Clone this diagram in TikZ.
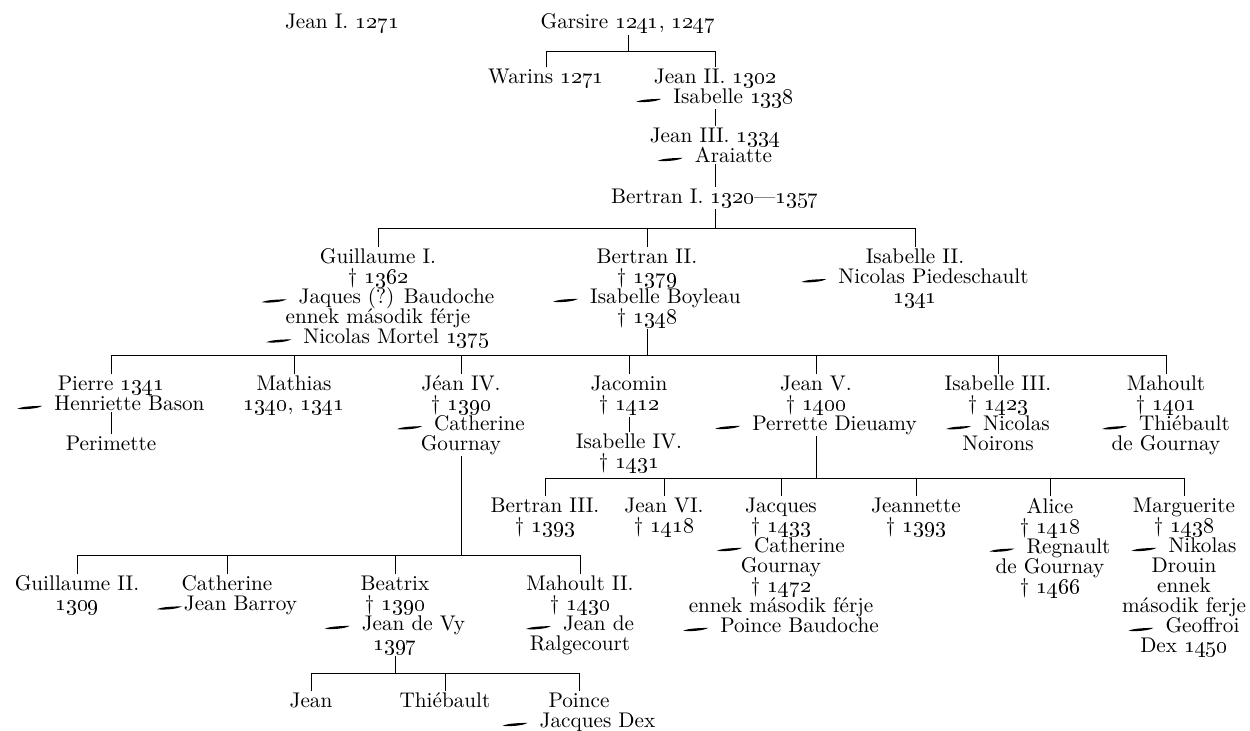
\documentclass[tikz,border=0pt]{standalone}
\usepackage{tikz}
\tikzset{
  font={\fontsize{10.6}{10}\selectfont\lineskiplimit -6pt}
}
\newcommand{\yr}[1]{\oldstylenums{#1}}
\newcommand{\hzs}{\tikz[baseline=-1.3pt,x=1pt,y=1pt]\fill (0,-0.5) .. controls (3,0.9) and (9,0.8) .. (12.5,1.0) .. controls (10,-0.6) and (3,-0.9) .. (0,-0.5) -- cycle;}
\newcommand{\hz}{\hzs\hspace{6pt}}

\begin{document}
\begin{tikzpicture}[x=0.5pt,y=-0.5pt,line width=0.5pt,
  person/.style={anchor=north,align=center,inner sep=0.5pt}]
\useasboundingbox (0,0) rectangle (1250,731);
% levels of the sibling lines
\coordinate (b1) at (0,52);
\coordinate (b2) at (0,229);
\coordinate (b3) at (0,356);
\coordinate (b4) at (0,479);
\coordinate (b5) at (0,556);
\coordinate (b6) at (0,674);

\node[person] (jeanI) at (342,12.5) {Jean I. \yr{1271}};
\node[person] (garsire) at (628,12.5) {Garsire \yr{1241}, \yr{1247}};
\node[person] (warins) at (546,67.5) {Warins \yr{1271}};
\node[person] (jeanII) at (715,67.5) {Jean II. \yr{1302}\\\hz Isabelle \yr{1338}};
\node[person] (jeanIII) at (715,126.5) {Jean III. \yr{1334}\\\hz Araiatte};
\node[person] (bertranI) at (715,187.5) {Bertran I. \yr{1320}---\yr{1357}};

\node[person] (guillaumeI) at (378,247.5) {Guillaume I.\\\dag\ \yr{1362}\\\hz Jaques (?) Baudoche\\ennek második férje\\\hz Nicolas Mortel \yr{1375}};
\node[person] (bertranII) at (647,247.5) {Bertran II.\\\dag\ \yr{1379}\\\hz Isabelle Boyleau\\\dag\ \yr{1348}};
\node[person] (isabelleII) at (915,247.5) {Isabelle II.\\\hz Nicolas Piedeschault\\\yr{1341}};

\node[person] (pierre) at (111,374.5) {Pierre \yr{1341}\\\hz Henriette Bason};
\node[person] (mathias) at (294,374.5) {Mathias\\\yr{1340}, \yr{1341}};
\node[person] (jeanIV) at (461,374.5) {Jéan IV.\\\dag\ \yr{1390}\\\hz Catherine\\Gournay};
\node[person] (jacomin) at (629,374.5) {Jacomin\\\dag\ \yr{1412}};
\node[person] (jeanV) at (816,374.5) {Jean V.\\\dag\ \yr{1400}\\\hz Perrette Dieuamy};
\node[person] (isabelleIII) at (998,374.5) {Isabelle III.\\\dag\ \yr{1423}\\\hz Nicolas\\Noirons};
\node[person] (mahoult) at (1166,374.5) {Mahoult\\\dag\ \yr{1401}\\\hz Thiébault\\de Gournay};
\node[person] (perimette) at (111,434.5) {Perimette};
\node[person] (isabelleIV) at (629,432.5) {Isabelle IV.\\\dag\ \yr{1431}};

\node[person] (bertranIII) at (545,496.5) {Bertran III.\\\dag\ \yr{1393}};
\node[person] (jeanVI) at (664,496.5) {Jean VI.\\\dag\ \yr{1418}};
\node[person] (jacques) at (781,496.5) {Jacques\\\dag\ \yr{1433}\\\hz Catherine\\Gournay\\\dag\ \yr{1472}\\ennek második férje\\\hz Poince Baudoche};
\node[person] (jeannette) at (916,496.5) {Jeannette\\\dag\ \yr{1393}};
\node[person] (alice) at (1050,496.5) {Alice\\\dag\ \yr{1418}\\\hz Regnault\\de Gournay\\\dag\ \yr{1466}};
\node[person] (marguerite) at (1184,496.5) {Marguerite\\\dag\ \yr{1438}\\\hz Nikolas\\Drouin\\ennek\\második ferje\\\hz Geoffroi\\Dex \yr{1450}};

\node[person] (guillaumeII) at (77,574.5) {Guillaume II.\\\yr{1309}};
\node[person] (catherine) at (227,574.5) {Catherine\\\hzs\hspace{1pt}Jean Barroy};
\node[person] (beatrix) at (395,574.5) {Beatrix\\\dag\ \yr{1390}\\\hz Jean de Vy\\\yr{1397}};
\node[person] (mahoultII) at (580,574.5) {Mahoult II.\\\dag\ \yr{1430}\\\hz Jean de\\Ralgecourt};

\node[person] (jean) at (311,691.5) {Jean};
\node[person] (thiebault) at (445,691.5) {Thiébault};
\node[person] (poince) at (579,691.5) {Poince\\\hz Jacques Dex};

% Garsire
\draw (garsire.south) -- (garsire |- b1);
\draw (warins.north) -- (warins |- b1) -- (jeanII |- b1) -- (jeanII.north);
\draw (jeanII.south) -- (jeanIII.north);
\draw (jeanIII.south) -- (bertranI.north);
% Bertran I.
\draw (bertranI.south) -- (bertranI |- b2);
\draw (guillaumeI.north) -- (guillaumeI |- b2) -- (isabelleII |- b2) -- (isabelleII.north);
\path (bertranII |- b2) edge (bertranII.north);
% Bertran II.
\draw (bertranII.south) -- (bertranII |- b3);
\draw (pierre.north) -- (pierre |- b3) -- (mahoult |- b3) -- (mahoult.north);
\path (mathias |- b3) edge (mathias.north)
      (jeanIV |- b3) edge (jeanIV.north)
      (jacomin |- b3) edge (jacomin.north)
      (jeanV |- b3) edge (jeanV.north)
      (isabelleIII |- b3) edge (isabelleIII.north);
\draw (pierre.south) -- (perimette.north);
\draw (jacomin.south) -- (isabelleIV.north);
% Jean V.
\draw (jeanV.south) -- (jeanV |- b4);
\draw (bertranIII.north) -- (bertranIII |- b4) -- (marguerite |- b4) -- (marguerite.north);
\path (jeanVI |- b4) edge (jeanVI.north)
      (jacques |- b4) edge (jacques.north)
      (jeannette |- b4) edge (jeannette.north)
      (alice |- b4) edge (alice.north);
% Jean IV.
\draw (jeanIV.south) -- (jeanIV |- b5);
\draw (guillaumeII.north) -- (guillaumeII |- b5) -- (mahoultII |- b5) -- (mahoultII.north);
\path (catherine |- b5) edge (catherine.north)
      (beatrix |- b5) edge (beatrix.north);
% Beatrix
\draw (beatrix.south) -- (beatrix |- b6);
\draw (jean.north) -- (jean |- b6) -- (poince |- b6) -- (poince.north);
\path (thiebault |- b6) edge (thiebault.north);
\end{tikzpicture}
\end{document}
